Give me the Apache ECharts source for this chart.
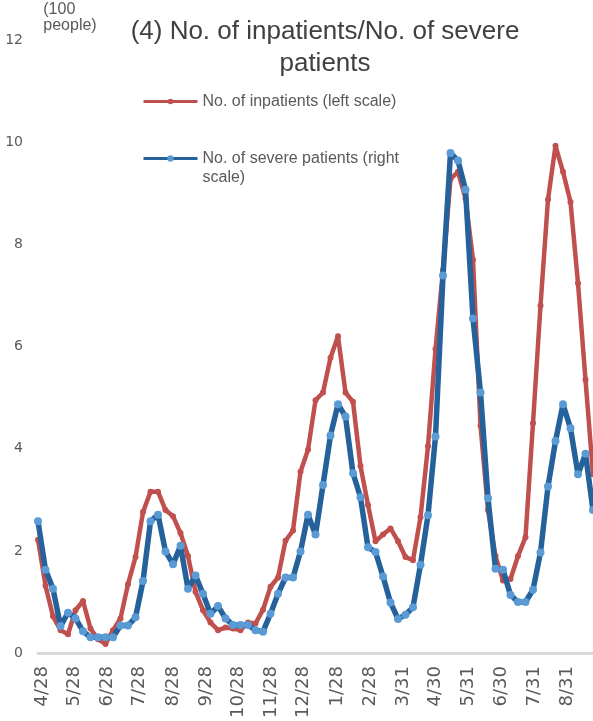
<!DOCTYPE html>
<html>
<head>
<meta charset="utf-8">
<script src="https://cdn.jsdelivr.net/npm/echarts@6/dist/echarts.min.js"></script>
<style>
html,body{margin:0;padding:0;background:#fff;}
#chart{width:593px;height:721px;}
</style>
</head>
<body>
<div id="chart"></div>
<script>
// Weekly series (first week sits 4 days before 4/28, one point every 7 days)
const firstWeekDay = -4;
const weekStepDays = 7;
const inpatients = [
  2.22, 1.32, 0.72, 0.45, 0.37, 0.84, 1.02, 0.48, 0.27, 0.18,
  0.45, 0.68, 1.35, 1.88, 2.76, 3.16, 3.16, 2.80, 2.68, 2.35,
  1.90, 1.20, 0.84, 0.60, 0.45, 0.50, 0.48, 0.45, 0.60, 0.58,
  0.85, 1.30, 1.48, 2.20, 2.40, 3.55, 3.98, 4.95, 5.10, 5.78,
  6.20, 5.10, 4.92, 3.66, 2.90, 2.19, 2.32, 2.44, 2.19, 1.88,
  1.82, 2.66, 4.05, 5.95, 7.50, 9.28, 9.42, 8.90, 7.70, 4.45,
  2.80, 1.90, 1.42, 1.45, 1.90, 2.27, 4.50, 6.80, 8.88, 9.93,
  9.42, 8.83, 7.24, 5.35, 3.50
];
const severe = [
  2.58, 1.63, 1.26, 0.53, 0.79, 0.68, 0.43, 0.31, 0.31, 0.31,
  0.31, 0.54, 0.54, 0.70, 1.41, 2.58, 2.71, 1.99, 1.74, 2.10,
  1.26, 1.52, 1.16, 0.77, 0.92, 0.68, 0.55, 0.55, 0.55, 0.45,
  0.42, 0.77, 1.16, 1.48, 1.48, 1.99, 2.71, 2.32, 3.29, 4.26,
  4.87, 4.63, 3.52, 3.05, 2.07, 1.98, 1.50, 0.99, 0.67, 0.75,
  0.90, 1.73, 2.70, 4.24, 7.39, 9.79, 9.64, 9.07, 6.55, 5.10,
  3.03, 1.65, 1.63, 1.14, 1.00, 1.00, 1.24, 1.97, 3.26, 4.15,
  4.87, 4.40, 3.50, 3.90, 2.80
];
// Tick labels (days counted from 4/28)
const tickDays = [0, 30, 61, 91, 122, 153, 183, 214, 244, 275, 306, 337, 367, 398, 428, 459, 490];
const tickLabels = ['4/28','5/28','6/28','7/28','8/28','9/28','10/28','11/28','12/28','1/28','2/28','3/31','4/30','5/31','6/30','7/31','8/31'];
const yTicks = [0, 2, 4, 6, 8, 10, 12];

const seriesNames = ['No. of inpatients (left scale)', 'No. of severe patients (right scale)'];

function toPairs(arr) {
  return arr.map((v, i) => [firstWeekDay + i * weekStepDays, v]);
}

const legendText = {
  fontFamily: 'Liberation Sans, Arial, sans-serif', fontSize: 16, color: '#595959', lineHeight: 19
};

const chart = echarts.init(document.getElementById('chart'), null, {renderer: 'canvas'});
chart.setOption({
  animation: false,
  backgroundColor: '#ffffff',
  title: {
    text: '(4) No. of inpatients/No. of severe\npatients',
    left: 325,
    top: 16,
    padding: 0,
    textAlign: 'center',
    textStyle: {
      fontFamily: 'Liberation Sans, Arial, sans-serif',
      fontSize: 26,
      fontWeight: 'normal',
      color: '#404040',
      lineHeight: 32
    }
  },
  legend: [
    {
      data: [seriesNames[0]],
      left: 142,
      top: 92,
      padding: 0,
      itemWidth: 54,
      itemHeight: 7,
      itemGap: 5,
      lineStyle: {width: 3},
      textStyle: legendText
    },
    {
      data: [seriesNames[1]],
      left: 142,
      top: 130,
      padding: 0,
      itemWidth: 54,
      itemHeight: 8,
      lineStyle: {width: 3},
      formatter: function (name) { return '\n' + name; },
      textStyle: Object.assign({}, legendText, {width: 205, overflow: 'break'})
    }
  ],
  grid: {left: 38, right: 0, top: 40, bottom: 61, containLabel: false},
  xAxis: {
    type: 'value',
    min: firstWeekDay,
    max: firstWeekDay + (severe.length - 1) * weekStepDays,
    splitLine: {show: false},
    axisTick: {show: false},
    axisLine: {show: true, onZero: false, lineStyle: {color: '#D9D9D9', width: 3}},
    axisLabel: {
      customValues: tickDays,
      rotate: 90,
      margin: 13,
      fontFamily: 'DejaVu Sans, sans-serif',
      fontSize: 18,
      color: '#595959',
      formatter: function (v) { const i = tickDays.indexOf(v); return i >= 0 ? tickLabels[i] : ''; }
    }
  },
  yAxis: {
    type: 'value',
    min: 0,
    max: 12,
    interval: 2,
    name: '(100\npeople)',
    nameLocation: 'end',
    nameGap: 6,
    nameTextStyle: {
      fontFamily: 'Liberation Sans, Arial, sans-serif',
      fontSize: 16,
      color: '#595959',
      lineHeight: 16,
      align: 'left',
      verticalAlign: 'bottom',
      padding: [0, 0, 0, 1]
    },
    splitLine: {show: false},
    axisTick: {show: false},
    axisLine: {show: false},
    axisLabel: {
      customValues: yTicks,
      margin: 15,
      padding: [5, 0, 0, 0],
      fontFamily: 'DejaVu Sans, sans-serif',
      fontSize: 14,
      color: '#595959'
    }
  },
  series: [
    {
      name: seriesNames[0],
      type: 'line',
      data: toPairs(inpatients),
      symbol: 'circle',
      symbolSize: 6,
      showAllSymbol: true,
      lineStyle: {color: '#C0504D', width: 4.5},
      itemStyle: {color: '#C0504D'},
      z: 2
    },
    {
      name: seriesNames[1],
      type: 'line',
      data: toPairs(severe),
      symbol: 'circle',
      symbolSize: 8,
      showAllSymbol: true,
      lineStyle: {color: '#25619B', width: 5.5},
      itemStyle: {color: '#5B9BD5'},
      z: 3
    }
  ]
});
</script>
</body>
</html>
